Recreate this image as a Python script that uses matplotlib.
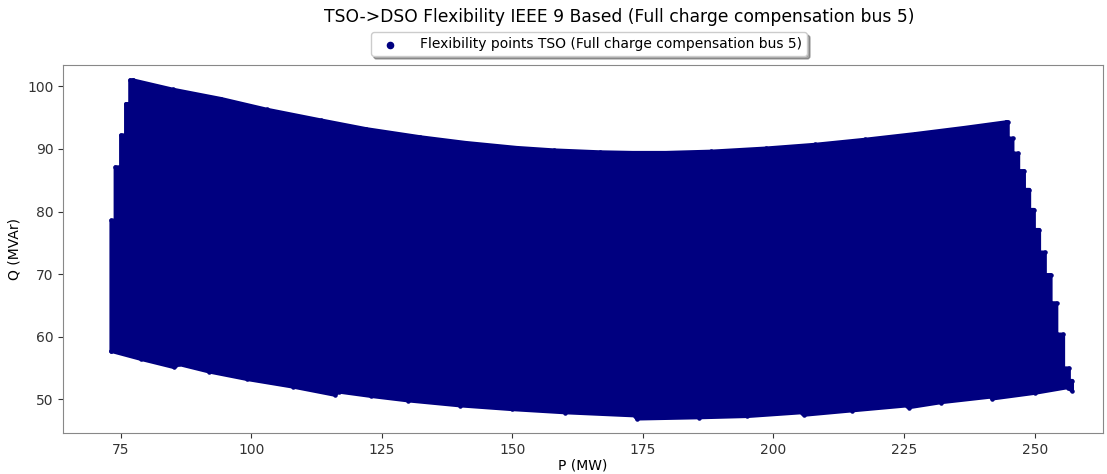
import numpy as np
import matplotlib
matplotlib.use("Agg")
import matplotlib.pyplot as plt

# Flexibility region (P in MW, Q in MVAr)
# left staircase: column edges in P and the top Q of each column
left_p_edges = [73.2, 74.0, 75.05, 76.0, 76.8, 77.3]
left_q_tops = [78.6, 87.1, 92.2, 97.2, 101.0]

# upper boundary, left to right
upper_p = [77.3, 85.0, 94.3, 103.0, 113.3, 122.0, 132.4, 141.0, 150.8, 158.0,
           166.7, 173.0, 179.4, 188.0, 198.5, 208.0, 217.5, 227.0, 236.6, 244.6]
upper_q = [101.0, 99.5, 98.0, 96.3, 94.6, 93.2, 91.9, 91.0, 90.2, 89.8,
           89.5, 89.4, 89.4, 89.6, 90.1, 90.7, 91.5, 92.4, 93.4, 94.3]

# right staircase: column edges in P and the top Q of each column
right_p_edges = [244.6, 244.9, 245.8, 246.9, 248.0, 249.0, 249.9, 250.9,
                 252.0, 253.1, 254.2, 255.5, 256.6, 257.2]
right_q_tops = [94.3, 91.7, 89.3, 86.5, 83.5, 80.3, 77.1, 73.5,
                69.9, 65.4, 60.4, 55.0, 53.0]

# lower boundary, left to right
lower_p = [73.2, 79.0, 85.3, 86.2, 92.0, 99.3, 108.0, 116.0, 116.8, 123.0,
           130.0, 140.0, 150.0, 160.0, 173.5, 173.8, 185.8, 195.0, 205.4, 205.8,
           215.0, 225.6, 225.9, 232.0, 241.6, 241.9, 250.0, 256.3, 257.2]
lower_q = [57.7, 56.4, 55.1, 55.6, 54.4, 53.2, 52.0, 50.7, 51.2, 50.5,
           49.8, 49.0, 48.4, 47.9, 47.4, 46.9, 47.1, 47.3, 47.9, 47.5,
           48.2, 49.0, 48.7, 49.5, 50.4, 50.1, 51.0, 51.9, 51.3]


def stairs(edges, tops):
    px, qy = [], []
    for i, q in enumerate(tops):
        px += [edges[i], edges[i + 1]]
        qy += [q, q]
    return px, qy


lp, lq = stairs(left_p_edges, left_q_tops)
rp, rq = stairs(right_p_edges, right_q_tops)

poly_p = [lower_p[0]] + lp + upper_p + rp + lower_p[::-1]
poly_q = [lower_q[0]] + lq + upper_q + rq + lower_q[::-1]

fig = plt.figure(figsize=(11.07, 4.74), dpi=100)
ax = fig.add_axes([0.057, 0.086, 0.939, 0.777])

ax.fill(poly_p, poly_q, color="navy", edgecolor="navy", linewidth=2.5,
        joinstyle="round", zorder=2)
ax.scatter(poly_p, poly_q, s=5, color="navy", zorder=3,
           label="Flexibility points TSO (Full charge compensation bus 5)")

ax.set_xlim(64.0, 263.0)
ax.set_ylim(44.6, 103.4)
ax.set_xticks([75, 100, 125, 150, 175, 200, 225, 250])
ax.set_yticks([50, 60, 70, 80, 90, 100])
ax.tick_params(labelsize=10, colors="#333333")
for s in ax.spines.values():
    s.set_color("#888888")

ax.set_xlabel("P (MW)", fontsize=10, labelpad=1)
ax.set_ylabel("Q (MVAr)", fontsize=10)
fig.text(0.559, 0.964,
         "TSO->DSO Flexibility IEEE 9 Based (Full charge compensation bus 5)",
         fontsize=12.3, ha="center", va="center")
ax.legend(loc="lower center", bbox_to_anchor=(0.506, 1.005), fontsize=10,
          shadow=True, fancybox=True, markerscale=2.0, borderpad=0.35,
          handletextpad=1.2)

fig.savefig("out.png", dpi=100)
